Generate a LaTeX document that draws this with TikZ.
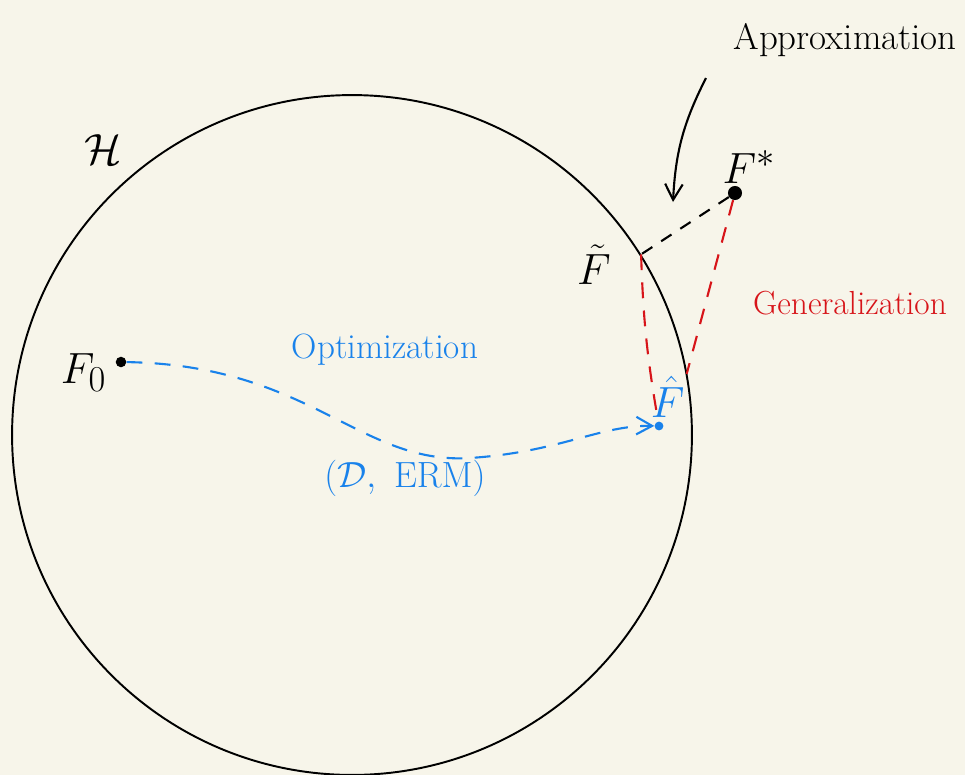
\documentclass[tikz,border=0pt]{standalone}
\usepackage{amsmath}
\usepackage{tikz}
\usetikzlibrary{positioning, arrows.meta, calc}
\definecolor{paper}{RGB}{247, 245, 234}
\definecolor{opt}{RGB}{25, 130, 235}
\definecolor{gen}{RGB}{215, 20, 25}

\begin{document}
\begin{tikzpicture}[
    x=0.02cm, y=-0.02cm,
    >={Straight Barb[length=9pt, width=10pt]},
    pt/.style={circle, fill=#1, inner sep=0pt, minimum size=6pt},
    lbl/.style={font=\fontsize{#1}{#1}\selectfont, inner sep=1pt},
    hspace/.style={circle, draw, line width=1.1pt, inner sep=0pt,
        minimum size=13.6cm},
    path/.style={line width=1.2pt, dash pattern=on 9pt off 7pt, draw=#1},
]

% =================================================
% Paper and the hypothesis space
% =================================================
\fill[paper] (0,0) rectangle (965,775);
\useasboundingbox (0,0) rectangle (965,775);

\node[hspace] (hs) at (352,435) {};
\node[lbl=30] (hslbl) at (103,150) {$\mathcal{H}$};

% =================================================
% Points
% =================================================
\node[pt=black] (f0) at (121,362) {};
\coordinate (ft) at (hs.32);
\node[pt=black, minimum size=8pt] (fstar) at (735,193) {};
\node[pt=opt, minimum size=5pt] (fhat) at (659,426) {};

\node[lbl=30, left=4pt of f0, yshift=-6pt] (f0lbl) {$F_0$};
\node[lbl=28, left=16pt of ft, yshift=-6pt] (ftlbl) {$\tilde{F}$};
\node[lbl=28, above=0pt of fstar, xshift=8pt] (fstarlbl) {$F^{*}$};
\node[lbl=24, text=opt, above=1pt of fhat, xshift=5pt] (fhatlbl) {$\hat{F}$};

% =================================================
% Optimization path
% =================================================
\draw[path=opt, ->] (f0) .. controls (310,365) and (360,465) .. (470,458)
    .. controls (560,452) and (600,425) .. (fhat);
\node[lbl=20, text=opt] (optlbl) at (385,350) {Optimization};
\node[lbl=22, text=opt] (ermlbl) at (405,478) {$(\mathcal{D},\ \mathrm{ERM})$};

% =================================================
% Approximation and generalization
% =================================================
\draw[path=black, dash pattern=on 7pt off 6pt] (fstar) -- (ft);
\draw[path=gen] (ft) to[bend right=4] (fhat);
\draw[path=gen] (fstar) -- (fhatlbl.north east);

\node[lbl=21] (applbl) at (845,40) {Approximation};
\coordinate (apptail) at (706,78);
\coordinate (apphead) at (673,202);
\draw[->, line width=1.2pt] (apptail) to[bend right=12] (apphead);

\node[lbl=19, text=gen] (genlbl) at (850,303) {Generalization};

\end{tikzpicture}
\end{document}
